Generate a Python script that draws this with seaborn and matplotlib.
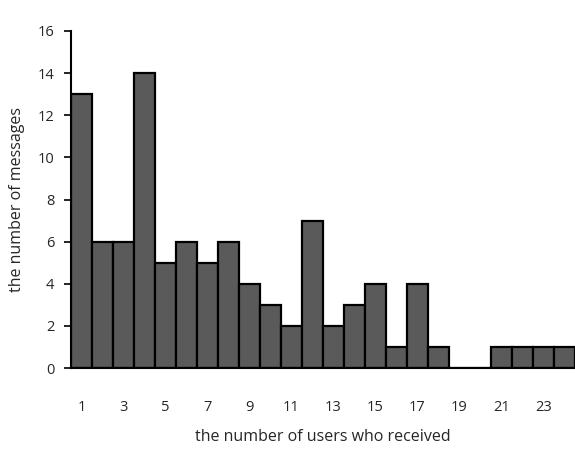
import matplotlib
matplotlib.use("Agg")
import matplotlib.pyplot as plt
import seaborn as sns
import pandas as pd

# users who received a message -> number of messages
users = list(range(1, 25))
messages = [13, 6, 6, 14, 5, 6, 5, 6, 4, 3, 2, 7, 2, 3, 4, 1, 4, 1, 0, 0, 1, 1, 1, 1]
y_ticks = [0, 2, 4, 6, 8, 10, 12, 14, 16]

df = pd.DataFrame({"users": [str(u) for u in users], "messages": messages})

sns.set_theme(style="white")
plt.rcParams["font.family"] = ["Open Sans", "DejaVu Sans"]

fig = plt.figure(figsize=(5.75, 4.51), dpi=100)
ax = fig.add_axes([71 / 575, 1 - 368 / 451, 1 - 71 / 575, (368 - 31) / 451])

sns.barplot(data=df, x="users", y="messages", ax=ax, color="#5a5a5a",
            saturation=1, width=1.0, edgecolor="black", linewidth=1.6)

ax.set_xlim(-0.5, len(users) - 0.5)
ax.set_ylim(0, 16)
ax.set_yticks(y_ticks)
ax.set_xticks(range(0, len(users), 2))
ax.set_xticklabels([str(u) for u in users[::2]])

ax.tick_params(axis="y", direction="out", length=5, width=1.2, color="black",
               labelsize=10.5, pad=7, left=True)
ax.tick_params(axis="x", length=0, labelsize=10.5, pad=23)

for side in ["top", "right"]:
    ax.spines[side].set_visible(False)
for side in ["left", "bottom"]:
    ax.spines[side].set_color("black")
    ax.spines[side].set_linewidth(1.5)

ax.set_xlabel("the number of users who received", fontsize=11.5, labelpad=10)
ax.set_ylabel("the number of messages", fontsize=11.5, labelpad=9)

fig.savefig("out.png", dpi=100)
